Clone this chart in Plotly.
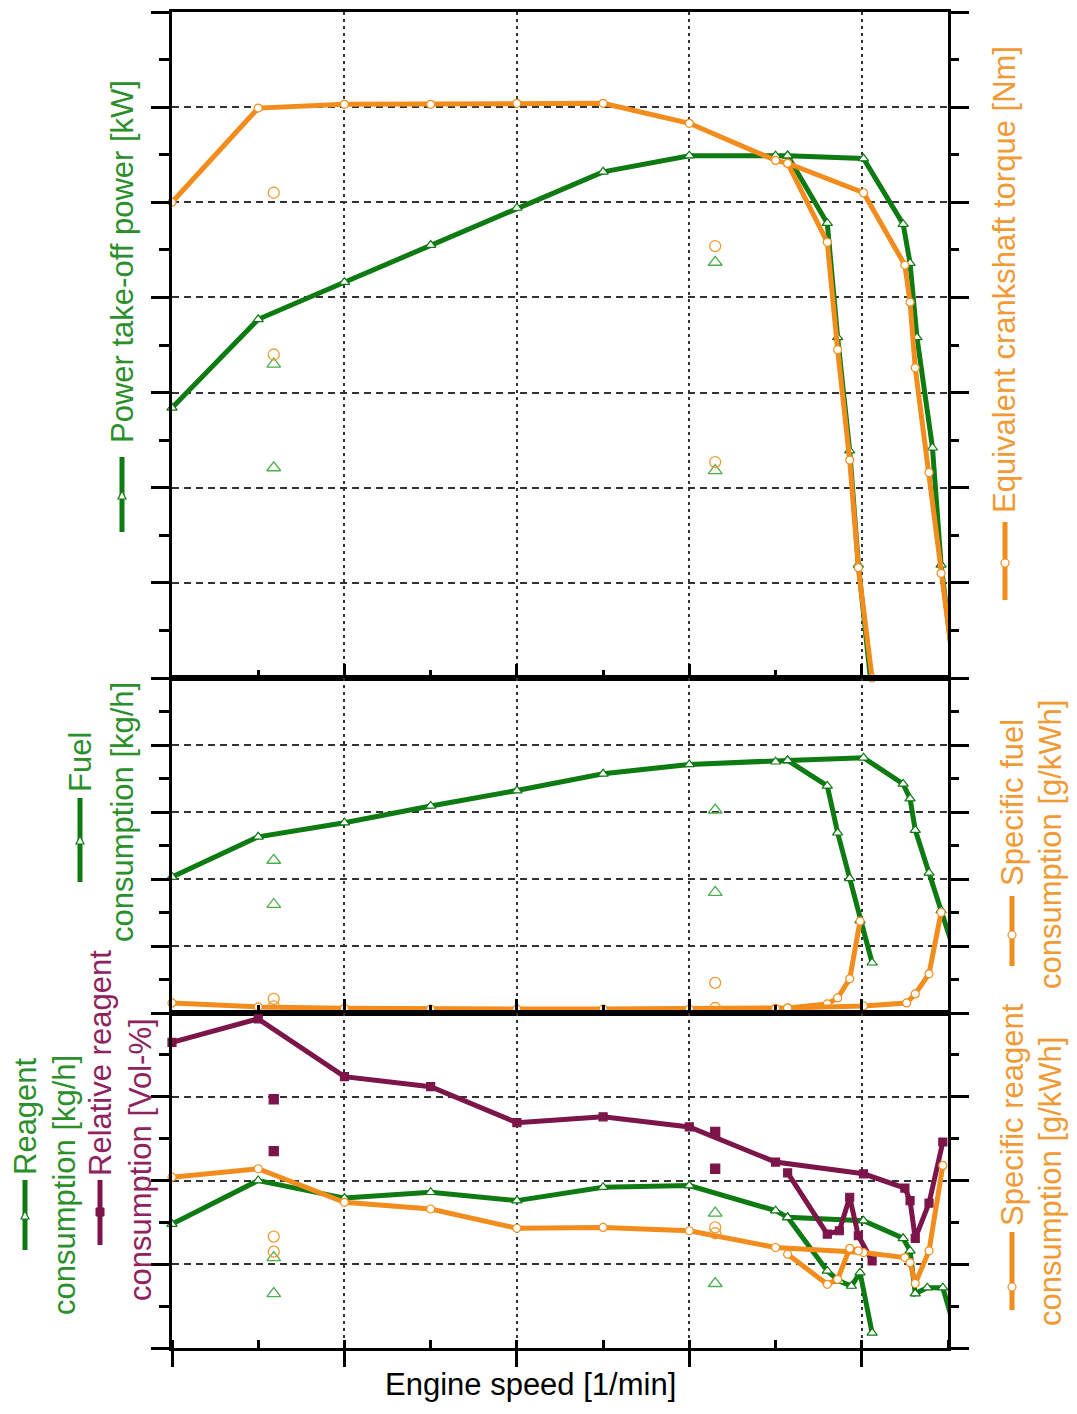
import plotly.graph_objects as go

# ---------------- data (arbitrary axis units) ----------------
# Top panel: power take-off power (green) and equivalent crankshaft torque (orange)
power_main_x = [0, 0.5, 1.0, 1.5, 2.0, 2.5, 3.0, 3.5, 3.57]
power_main_y = [2.84, 3.77, 4.16, 4.55, 4.94, 5.32, 5.49, 5.49, 5.49]
power_a_x = [3.57, 3.80, 3.86, 3.93, 3.98, 4.05]
power_a_y = [5.49, 4.78, 3.58, 2.39, 1.19, 0.0]
power_b_x = [3.57, 4.01, 4.24, 4.28, 4.32, 4.41, 4.46, 4.54]
power_b_y = [5.49, 5.46, 4.77, 4.36, 3.58, 2.42, 1.19, 0.0]
power_pts_x = [0.59, 0.59, 3.15, 3.15]
power_pts_y = [3.30, 2.21, 4.37, 2.18]

torque_main_x = [0, 0.5, 1.0, 1.5, 2.0, 2.5, 3.0, 3.5, 3.57]
torque_main_y = [5.0, 5.99, 6.03, 6.03, 6.04, 6.04, 5.83, 5.44, 5.41]
torque_a_x = [3.57, 3.80, 3.86, 3.93, 3.98, 4.06]
torque_a_y = [5.41, 4.58, 3.45, 2.29, 1.16, 0.0]
torque_b_x = [3.57, 4.01, 4.25, 4.28, 4.31, 4.39, 4.46, 4.54]
torque_b_y = [5.41, 5.10, 4.34, 3.95, 3.26, 2.16, 1.10, 0.0]
torque_pts_x = [0.59, 0.59, 3.15, 3.15]
torque_pts_y = [5.10, 3.40, 4.54, 2.27]

# Middle panel: fuel consumption (green) and specific fuel consumption (orange)
fuel_main_x = [0, 0.5, 1.0, 1.5, 2.0, 2.5, 3.0, 3.5, 3.57]
fuel_main_y = [2.03, 2.63, 2.84, 3.09, 3.32, 3.57, 3.71, 3.75, 3.77]
fuel_a_x = [3.57, 3.80, 3.86, 3.93, 3.99, 4.06]
fuel_a_y = [3.77, 3.39, 2.69, 2.01, 1.38, 0.75]
fuel_b_x = [3.57, 4.01, 4.24, 4.28, 4.31, 4.39, 4.46, 4.54]
fuel_b_y = [3.77, 3.81, 3.42, 3.20, 2.73, 2.09, 1.53, 0.89]
fuel_pts_x = [0.59, 0.59, 3.15, 3.15]
fuel_pts_y = [2.28, 1.62, 3.03, 1.80]

sfc_main_x = [0, 0.5, 1.0, 1.5, 2.0, 2.5, 3.0, 3.5, 3.57]
sfc_main_y = [0.15, 0.09, 0.07, 0.06, 0.06, 0.06, 0.06, 0.07, 0.075]
sfc_a_x = [3.57, 3.80, 3.86, 3.93, 3.99]
sfc_a_y = [0.075, 0.135, 0.225, 0.51, 1.37]
sfc_b_x = [3.57, 4.01, 4.26, 4.31, 4.39, 4.46]
sfc_b_y = [0.075, 0.105, 0.15, 0.285, 0.585, 1.50]
sfc_pts_x = [0.59, 0.59, 3.15, 3.15]
sfc_pts_y = [0.21, 0.10, 0.45, 0.075]

# Bottom panel: reagent consumption (green), relative reagent consumption (purple),
# specific reagent consumption (orange)
reag_main_x = [0, 0.5, 1.0, 1.5, 2.0, 2.5, 3.0, 3.5, 3.57, 4.01, 4.24, 4.28, 4.31, 4.38, 4.47, 4.55]
reag_main_y = [1.48, 2.00, 1.79, 1.86, 1.76, 1.92, 1.94, 1.64, 1.56, 1.52, 1.31, 1.16, 0.65, 0.72, 0.72, 0.15]
reag_a_x = [3.57, 3.80, 3.87, 3.94, 3.99, 4.06]
reag_a_y = [1.56, 0.92, 0.80, 0.74, 0.90, 0.18]
reag_pts_x = [0.59, 0.59, 3.15, 3.15]
reag_pts_y = [1.08, 0.65, 1.61, 0.77]

rel_main_x = [0, 0.5, 1.0, 1.5, 2.0, 2.5, 3.0, 3.5, 4.01, 4.25, 4.28, 4.31, 4.39, 4.47]
rel_main_y = [3.65, 3.93, 3.24, 3.12, 2.69, 2.76, 2.64, 2.22, 2.08, 1.91, 1.76, 1.31, 1.73, 2.46]
rel_a_x = [3.57, 3.80, 3.87, 3.93, 3.98, 4.06]
rel_a_y = [2.09, 1.36, 1.40, 1.80, 1.34, 1.04]
rel_pts_x = [0.59, 0.59, 3.15, 3.15]
rel_pts_y = [2.97, 2.35, 2.58, 2.14]

srg_main_x = [0, 0.5, 1.0, 1.5, 2.0, 2.5, 3.0, 3.5, 4.01, 4.25, 4.28, 4.31, 4.39, 4.47]
srg_main_y = [2.04, 2.14, 1.74, 1.66, 1.43, 1.44, 1.40, 1.20, 1.14, 1.08, 1.02, 0.77, 1.16, 2.18]
srg_a_x = [3.57, 3.80, 3.86, 3.93, 3.98]
srg_a_y = [1.12, 0.76, 0.82, 1.19, 1.16]
srg_pts_x = [0.59, 0.59, 3.15, 3.15]
srg_pts_y = [1.33, 1.15, 1.44, 1.37]

# ---------------- styling ----------------
GREEN = "#0e7a12"
ORANGE = "#f28c1c"
PURPLE = "#7c1549"
GREEN_T = "#2b8f2b"
ORANGE_T = "#f09a35"
PURPLE_T = "#8e2360"
FONT = "Liberation Sans, Arial, sans-serif"
FS = 31

# page (window) geometry; the page body adds an 8 px margin around the figure
OFF = 8
PAGE_W, PAGE_H = 1077, 1414
W, H = PAGE_W - 2 * OFF, PAGE_H - 2 * OFF
PLOT_L, PLOT_R, PLOT_T, PLOT_B = 172, 948, 12, 1348   # page pixels of the plot area
ML, MT = PLOT_L - OFF, PLOT_T - OFF
MR = W - (PLOT_R - OFF)
MB = H - (PLOT_B - OFF)
PW = PLOT_R - PLOT_L
PH = PLOT_B - PLOT_T


def pxx(x):
    return (x - PLOT_L) / PW


def pxy(y):
    return (PLOT_B - y) / PH


fig = go.Figure()


def line_trace(x, y, color, symbol, xa, ya, msize=8, filled=False):
    fig.add_trace(go.Scatter(
        x=x, y=y, xaxis=xa, yaxis=ya, mode="lines+markers",
        line=dict(color=color, width=5),
        marker=dict(symbol=symbol, size=msize,
                    color=color if filled else "white",
                    line=dict(color=color, width=1.2)),
        cliponaxis=False, showlegend=False, hoverinfo="skip"))


def point_trace(x, y, color, symbol, xa, ya, msize=11):
    fig.add_trace(go.Scatter(
        x=x, y=y, xaxis=xa, yaxis=ya, mode="markers",
        marker=dict(symbol=symbol, size=msize, color=color,
                    line=dict(color=color, width=1.3)),
        cliponaxis=False, showlegend=False, hoverinfo="skip"))


# top panel
for xs, ys in [(power_main_x, power_main_y), (power_a_x, power_a_y), (power_b_x, power_b_y)]:
    line_trace(xs, ys, GREEN, "triangle-up", "x", "y", 9)
for xs, ys in [(torque_main_x, torque_main_y), (torque_a_x, torque_a_y), (torque_b_x, torque_b_y)]:
    line_trace(xs, ys, ORANGE, "circle", "x", "y4", 8)
point_trace(power_pts_x, power_pts_y, "#4caf4c", "triangle-up-open", "x", "y", 12)
point_trace(torque_pts_x, torque_pts_y, ORANGE_T, "circle-open", "x", "y4", 11)

# middle panel
for xs, ys in [(fuel_main_x, fuel_main_y), (fuel_a_x, fuel_a_y), (fuel_b_x, fuel_b_y)]:
    line_trace(xs, ys, GREEN, "triangle-up", "x2", "y2", 9)
for xs, ys in [(sfc_main_x, sfc_main_y), (sfc_a_x, sfc_a_y), (sfc_b_x, sfc_b_y)]:
    line_trace(xs, ys, ORANGE, "circle", "x2", "y5", 8)
point_trace(fuel_pts_x, fuel_pts_y, "#4caf4c", "triangle-up-open", "x2", "y2", 12)
point_trace(sfc_pts_x, sfc_pts_y, ORANGE_T, "circle-open", "x2", "y5", 11)

# bottom panel
for xs, ys in [(srg_main_x, srg_main_y), (srg_a_x, srg_a_y)]:
    line_trace(xs, ys, ORANGE, "circle", "x3", "y6", 8)
for xs, ys in [(reag_main_x, reag_main_y), (reag_a_x, reag_a_y)]:
    line_trace(xs, ys, GREEN, "triangle-up", "x3", "y3", 9)
for xs, ys in [(rel_main_x, rel_main_y), (rel_a_x, rel_a_y)]:
    line_trace(xs, ys, PURPLE, "square", "x3", "y3", 8, filled=True)
point_trace(reag_pts_x, reag_pts_y, "#4caf4c", "triangle-up-open", "x3", "y3", 12)
point_trace(srg_pts_x, srg_pts_y, ORANGE_T, "circle-open", "x3", "y6", 11)
point_trace(rel_pts_x, rel_pts_y, PURPLE, "square", "x3", "y3", 9)

# ---------------- axes ----------------
d_top = [pxy(678), 1.0]
d_mid = [pxy(1013), pxy(678)]
d_bot = [0.0, pxy(1013)]

grid_x = dict(showgrid=True, gridcolor="#333333", gridwidth=1.7, griddash="3px,4px")
grid_y = dict(showgrid=True, gridcolor="#333333", gridwidth=1.7, griddash="7px,5px")


def xax(anchor, ticks, ticklen, minor_ticks, minor_len):
    d = dict(range=[0, 4.5], tick0=0, dtick=1, showticklabels=False,
             showline=True, linecolor="black", linewidth=3, mirror=True,
             ticks=ticks, ticklen=ticklen, tickwidth=3, tickcolor="black",
             minor=dict(tick0=0, dtick=0.5, ticks=minor_ticks, ticklen=minor_len,
                        tickwidth=2.5, tickcolor="black", showgrid=False),
             zeroline=False, anchor=anchor, fixedrange=True)
    d.update(grid_x)
    return d


def yax_left(rng, domain, anchor):
    d = dict(range=rng, domain=domain, tick0=0, dtick=1, showticklabels=False,
             showline=True, linecolor="black", linewidth=3, mirror=True,
             ticks="outside", ticklen=18, tickwidth=3, tickcolor="black",
             minor=dict(tick0=0, dtick=0.5, ticks="outside", ticklen=10,
                        tickwidth=2.5, tickcolor="black", showgrid=False),
             zeroline=False, anchor=anchor, fixedrange=True)
    d.update(grid_y)
    return d


def yax_right(rng, over, anchor):
    return dict(range=rng, overlaying=over, side="right", anchor=anchor,
                tick0=0, dtick=1, showticklabels=False, showgrid=False,
                showline=True, linecolor="black", linewidth=3,
                ticks="outside", ticklen=18, tickwidth=3, tickcolor="black",
                minor=dict(tick0=0, dtick=0.5, ticks="outside", ticklen=8,
                           tickwidth=2.5, tickcolor="black", showgrid=False),
                zeroline=False, fixedrange=True)


fig.update_layout(
    width=W, height=H,
    margin=dict(l=ML, r=MR, t=MT, b=MB, autoexpand=False),
    paper_bgcolor="white", plot_bgcolor="white",
    font=dict(family=FONT, size=FS, color="black"),
    showlegend=False,
    xaxis=xax("y", "inside", 14, "inside", 8),
    xaxis2=xax("y2", "inside", 14, "inside", 8),
    xaxis3=xax("y3", "outside", 16, "inside", 8),
    yaxis=yax_left([0, 7], d_top, "x"),
    yaxis2=yax_left([0, 5], d_mid, "x2"),
    yaxis3=yax_left([0, 4], d_bot, "x3"),
    yaxis4=yax_right([0, 7], "y", "x"),
    yaxis5=yax_right([0, 5], "y2", "x2"),
    yaxis6=yax_right([0, 4], "y3", "x3"),
)

# ---------------- axis titles with line symbols ----------------
annotations = []


def vtext(text, x, y, color):
    annotations.append(dict(text=text, x=pxx(x), y=pxy(y), xref="paper", yref="paper",
                            textangle=-90, showarrow=False, xanchor="center",
                            yanchor="middle", font=dict(family=FONT, size=FS, color=color)))


vtext("Power take-off power [kW]", 122, 262, GREEN_T)
vtext("Equivalent crankshaft torque [Nm]", 1005, 280, ORANGE_T)
vtext("Fuel", 80, 762, GREEN_T)
vtext("consumption [kg/h]", 122, 812, GREEN_T)
vtext("Specific fuel", 1012, 803, ORANGE_T)
vtext("consumption [g/kWh]", 1050, 845, ORANGE_T)
vtext("Reagent", 25, 1116, GREEN_T)
vtext("consumption [kg/h]", 64, 1185, GREEN_T)
vtext("Relative reagent", 100, 1063, PURPLE_T)
vtext("consumption [Vol-%]", 140, 1160, PURPLE_T)
vtext("Specific reagent", 1012, 1115, ORANGE_T)
vtext("consumption [g/kWh]", 1050, 1182, ORANGE_T)

annotations.append(dict(text="Engine speed [1/min]", x=pxx(530), y=pxy(1384),
                        xref="paper", yref="paper", showarrow=False,
                        xanchor="center", yanchor="middle",
                        font=dict(family=FONT, size=FS, color="black")))

shapes = []


def symbol(x, y0, y1, ym, color, kind):
    shapes.append(dict(type="line", xref="paper", yref="paper",
                       x0=pxx(x), x1=pxx(x), y0=pxy(y0), y1=pxy(y1),
                       line=dict(color=color, width=5)))
    r = 4
    if kind == "circle":
        shapes.append(dict(type="circle", xref="paper", yref="paper",
                           x0=pxx(x - r), x1=pxx(x + r), y0=pxy(ym + r), y1=pxy(ym - r),
                           fillcolor="white", line=dict(color=color, width=1.2)))
    elif kind == "triangle":
        path = "M {:.5f},{:.5f} L {:.5f},{:.5f} L {:.5f},{:.5f} Z".format(
            pxx(x), pxy(ym - r), pxx(x - r), pxy(ym + r), pxx(x + r), pxy(ym + r))
        shapes.append(dict(type="path", xref="paper", yref="paper", path=path,
                           fillcolor="white", line=dict(color=color, width=1.2)))
    elif kind == "square":
        shapes.append(dict(type="rect", xref="paper", yref="paper",
                           x0=pxx(x - r), x1=pxx(x + r), y0=pxy(ym + r), y1=pxy(ym - r),
                           fillcolor=color, line=dict(color=color, width=1)))


symbol(122, 457, 532, 495, GREEN, "triangle")
symbol(1005, 522, 600, 563, ORANGE, "circle")
symbol(80, 798, 882, 840, GREEN, "triangle")
symbol(1012, 896, 966, 935, ORANGE, "circle")
symbol(25, 1180, 1250, 1215, GREEN, "triangle")
symbol(100, 1180, 1245, 1212, PURPLE, "square")
symbol(1012, 1232, 1310, 1287, ORANGE, "circle")

fig.update_layout(annotations=annotations, shapes=shapes)

fig.write_html("out.html")
